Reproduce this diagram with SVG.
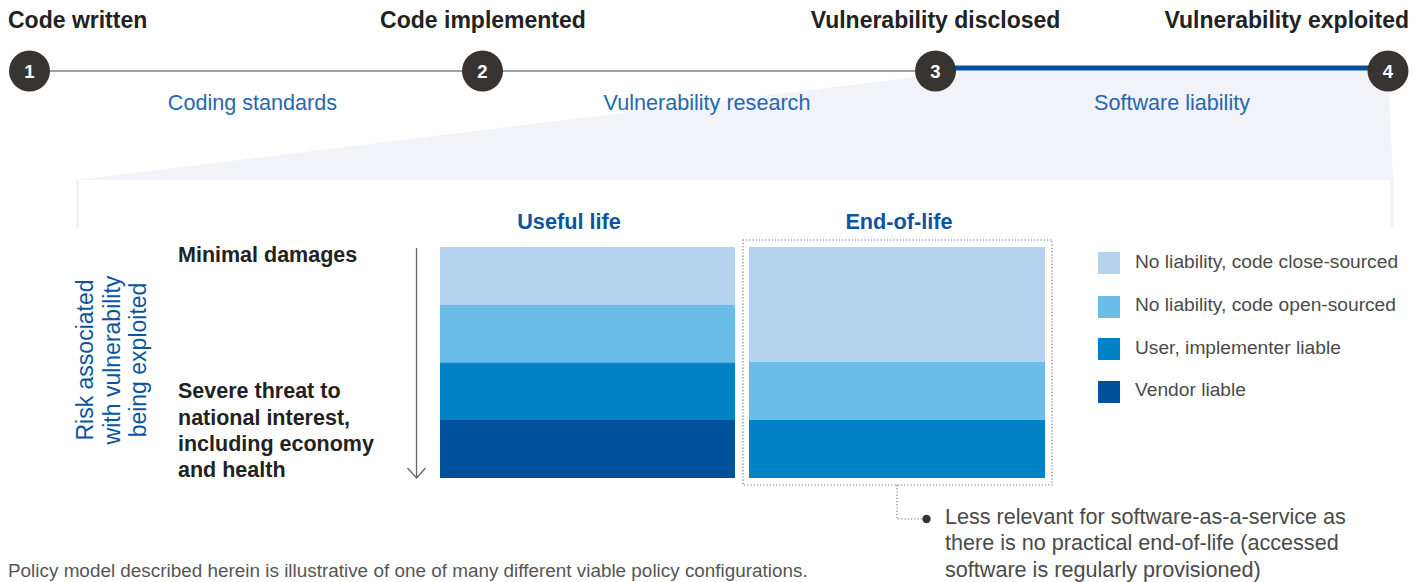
<svg xmlns="http://www.w3.org/2000/svg" width="1426" height="582" viewBox="0 0 1426 582">
<defs>
<style>
.title{font-family:"Liberation Sans",Arial,sans-serif;font-weight:bold;font-size:23px;fill:#222}
.num{font-family:"Liberation Sans",Arial,sans-serif;font-weight:bold;font-size:18.5px;fill:#fff;text-anchor:middle}
.phase{font-family:"Liberation Sans",Arial,sans-serif;font-size:21.6px;fill:#2468b0;text-anchor:middle}
.head{font-family:"Liberation Sans",Arial,sans-serif;font-weight:bold;font-size:21.7px;fill:#0b55a0;text-anchor:middle}
.axis{font-family:"Liberation Sans",Arial,sans-serif;font-size:23px;fill:#0b55a0;text-anchor:middle}
.lvl{font-family:"Liberation Sans",Arial,sans-serif;font-weight:bold;font-size:21.5px;fill:#222}
.leg{font-family:"Liberation Sans",Arial,sans-serif;font-size:19.2px;fill:#4a4a4a}
.note{font-family:"Liberation Sans",Arial,sans-serif;font-size:21.6px;fill:#4a4a4a}
.foot{font-family:"Liberation Sans",Arial,sans-serif;font-size:18.9px;fill:#555}
.c1{fill:#b5d3ee}.c2{fill:#69bde8}.c3{fill:#0082c6}.c4{fill:#00519c}
.circ{fill:#383432}
</style>
<marker id="chev" viewBox="0 0 12 20" refX="11" refY="10" markerWidth="12" markerHeight="20" markerUnits="userSpaceOnUse" orient="auto">
<path d="M1,1 L11,10 L1,19" fill="none" stroke="#666" stroke-width="1.3"/>
</marker>
</defs>
<rect width="1426" height="582" fill="#fff"/>

<g id="fan">
<polygon points="916,77 936,71 1388,71 1393,180 77,180" fill="#f2f3f8"/>
<rect x="76" y="180" width="3" height="48" fill="#f2f3f8"/>
<rect x="1390.5" y="180" width="3" height="48" fill="#f2f3f8"/>
</g>

<g id="connectors">
<line x1="30" y1="71" x2="936" y2="71" stroke="#a0a0a0" stroke-width="2"/>
<line x1="936" y1="68" x2="1388" y2="68" stroke="#0051a0" stroke-width="5"/>
<line x1="416.5" y1="248" x2="416.5" y2="478" stroke="#666" stroke-width="1.3" marker-end="url(#chev)"/>
<polyline points="897,485 897,519 922,519" fill="none" stroke="#777" stroke-width="1.2" stroke-dasharray="1.2,2"/>
<circle cx="926.5" cy="519" r="4.2" fill="#333"/>
</g>

<g id="step1"><text class="title" x="8" y="28">Code written</text><circle class="circ" cx="29.5" cy="71" r="20.5"/><text class="num" x="29.5" y="77.6">1</text></g>
<g id="step2"><text class="title" x="483" y="28" text-anchor="middle">Code implemented</text><circle class="circ" cx="482.5" cy="71" r="20.5"/><text class="num" x="482.5" y="77.6">2</text></g>
<g id="step3"><text class="title" x="935.5" y="28" text-anchor="middle">Vulnerability disclosed</text><circle class="circ" cx="935.5" cy="71" r="20.5"/><text class="num" x="935.5" y="77.6">3</text></g>
<g id="step4"><text class="title" x="1409" y="28" text-anchor="end">Vulnerability exploited</text><circle class="circ" cx="1388" cy="71" r="20.5"/><text class="num" x="1388" y="77.6">4</text></g>

<g id="phases">
<text class="phase" x="252.5" y="110">Coding standards</text>
<text class="phase" x="707" y="110">Vulnerability research</text>
<text class="phase" x="1172" y="110">Software liability</text>
</g>

<g id="axis-label">
<text class="axis" transform="translate(93,360) rotate(-90)">Risk associated</text>
<text class="axis" transform="translate(119.7,360) rotate(-90)">with vulnerability</text>
<text class="axis" transform="translate(146.3,360) rotate(-90)">being exploited</text>
</g>

<g id="levels">
<text class="lvl" x="178" y="262">Minimal damages</text>
<text class="lvl" x="178" y="398">Severe threat to</text>
<text class="lvl" x="178" y="424.5">national interest,</text>
<text class="lvl" x="178" y="451">including economy</text>
<text class="lvl" x="178" y="477">and health</text>
</g>

<g id="useful-life">
<text class="head" x="569" y="229">Useful life</text>
<rect class="c1" x="440" y="247" width="295" height="58"/>
<rect class="c2" x="440" y="305" width="295" height="57.5"/>
<rect class="c3" x="440" y="362.5" width="295" height="57.5"/>
<rect class="c4" x="440" y="420" width="295" height="58"/>
</g>

<g id="end-of-life">
<text class="head" x="899" y="229">End-of-life</text>
<rect x="743" y="240" width="309" height="245" fill="none" stroke="#777" stroke-width="1.2" stroke-dasharray="1.2,2"/>
<rect class="c1" x="749" y="247" width="296" height="115"/>
<rect class="c2" x="749" y="362" width="296" height="58"/>
<rect class="c3" x="749" y="420" width="296" height="58"/>
</g>

<g id="legend">
<rect class="c1" x="1098" y="252" width="22" height="22"/>
<text class="leg" x="1135" y="268">No liability, code close-sourced</text>
<rect class="c2" x="1098" y="296" width="22" height="22"/>
<text class="leg" x="1135" y="311">No liability, code open-sourced</text>
<rect class="c3" x="1098" y="338" width="22" height="22"/>
<text class="leg" x="1135" y="353.5">User, implementer liable</text>
<rect class="c4" x="1098" y="381" width="22" height="22"/>
<text class="leg" x="1135" y="396">Vendor liable</text>
</g>

<g id="note">
<text class="note" x="945" y="523.5">Less relevant for software-as-a-service as</text>
<text class="note" x="945" y="550">there is no practical end-of-life (accessed</text>
<text class="note" x="945" y="576.5">software is regularly provisioned)</text>
</g>

<text class="foot" x="8" y="577">Policy model described herein is illustrative of one of many different viable policy configurations.</text>
</svg>
